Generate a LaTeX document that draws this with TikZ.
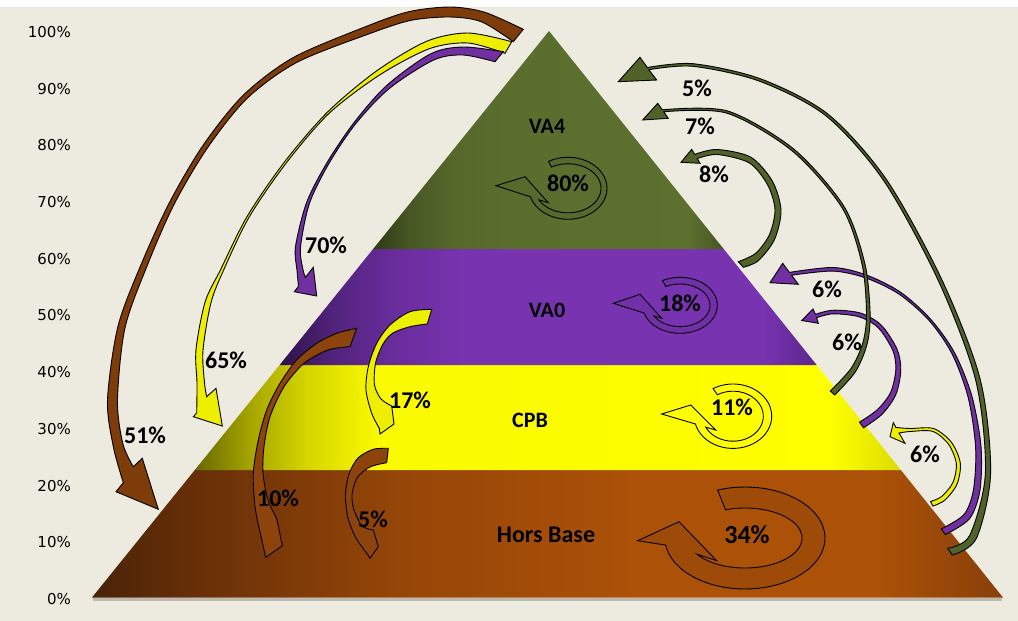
\documentclass[tikz,border=0pt]{standalone}
\usepackage{fontspec}
\setmainfont{Carlito}
\newfontfamily\axisfont{DejaVu Sans}
\definecolor{bgc}{RGB}{237,235,224}
\definecolor{shadowc}{RGB}{190,185,175}
\definecolor{arrBrown}{RGB}{125,60,10}
\definecolor{arrBrownB}{RGB}{140,68,12}
\definecolor{arrYellow}{RGB}{238,238,0}
\definecolor{arrPurple}{RGB}{112,48,160}
\definecolor{arrGreen}{RGB}{80,98,40}
\definecolor{ringGreen}{RGB}{86,106,44}
\definecolor{ringPurple}{RGB}{114,48,168}
\definecolor{ringYellow}{RGB}{255,255,0}
\definecolor{ringBrown}{RGB}{158,74,9}
\pgfdeclarehorizontalshading{brownsh}{100bp}{rgb(0bp)=(0.29,0.137,0.031); rgb(25bp)=(0.29,0.137,0.031); rgb(32bp)=(0.431,0.196,0.031); rgb(42bp)=(0.588,0.275,0.031); rgb(55bp)=(0.675,0.318,0.031); rgb(68bp)=(0.675,0.318,0.031); rgb(75bp)=(0.53,0.25,0.039); rgb(100bp)=(0.53,0.25,0.039)}
\pgfdeclarehorizontalshading{yellowsh}{100bp}{rgb(0bp)=(0.41,0.41,0); rgb(25bp)=(0.41,0.41,0); rgb(29bp)=(0.65,0.65,0); rgb(33bp)=(0.84,0.84,0); rgb(38bp)=(0.98,0.98,0); rgb(70bp)=(1,1,0); rgb(75bp)=(0.86,0.86,0); rgb(100bp)=(0.86,0.86,0)}
\pgfdeclarehorizontalshading{purplesh}{100bp}{rgb(0bp)=(0.176,0.07,0.282); rgb(25bp)=(0.176,0.07,0.282); rgb(30bp)=(0.322,0.137,0.486); rgb(36bp)=(0.416,0.176,0.616); rgb(42bp)=(0.471,0.2,0.69); rgb(70bp)=(0.471,0.2,0.69); rgb(75bp)=(0.36,0.15,0.55); rgb(100bp)=(0.36,0.15,0.55)}
\pgfdeclarehorizontalshading{greensh}{100bp}{rgb(0bp)=(0.176,0.227,0.086); rgb(25bp)=(0.176,0.227,0.086); rgb(30bp)=(0.275,0.337,0.137); rgb(37bp)=(0.337,0.412,0.169); rgb(45bp)=(0.353,0.431,0.18); rgb(70bp)=(0.36,0.44,0.184); rgb(75bp)=(0.275,0.337,0.137); rgb(100bp)=(0.275,0.337,0.137)}
\tikzset{
  arr/.style={draw=black, line width=0.9pt, line join=miter},
  ring/.style={draw=black, line width=0.9pt, line join=miter},
  lab/.style={font=\fontsize{22}{22}\selectfont\bfseries, inner sep=0pt},
  labbig/.style={font=\fontsize{24}{24}\selectfont\bfseries, inner sep=0pt},
  pct/.style={font=\fontsize{24}{24}\selectfont\bfseries, inner sep=0pt},
  pctbig/.style={font=\fontsize{26}{26}\selectfont\bfseries, inner sep=0pt},
  axl/.style={font=\axisfont\fontsize{15}{15}\selectfont, inner sep=0pt, anchor=east}
}
\begin{document}
\begin{tikzpicture}[x=1pt,y=-1pt]
\useasboundingbox (0,0) rectangle (1018,621);
\fill[bgc] (0,0) rectangle (1018,621);
\fill[white] (0,0) rectangle (1018,6.5);

% pyramid corners
\coordinate (apex) at (549,31);
\coordinate (bl) at (92,597.5);
\coordinate (br) at (1003,597.5);
\coordinate (l1) at (194.8,470);   \coordinate (r1) at (900.8,470);
\coordinate (l2) at (279.6,365);   \coordinate (r2) at (816.7,365);
\coordinate (l3) at (373.1,249);   \coordinate (r3) at (723.7,249);

\draw[shadowc, line width=2.5pt] (93,599.5) -- (1002,599.5);
\shade[shading=brownsh] (bl) -- (br) -- (r1) -- (l1) -- cycle;
\shade[shading=yellowsh] (l1) -- (r1) -- (r2) -- (l2) -- cycle;
\shade[shading=purplesh] (l2) -- (r2) -- (r3) -- (l3) -- cycle;
\shade[shading=greensh] (l3) -- (r3) -- (apex) -- cycle;

% circular arrows
\coordinate (r80t) at (496,185.7); \coordinate (r80a) at (525,176.7); \coordinate (r80b) at (548.3,202.7);
\draw[ring, fill=ringGreen] plot[domain=-120:164, samples=60] ({568+39*cos(\x)},{188.3+31*sin(\x)}) -- (r80t) -- (r80a) -- (r80b) -- plot[domain=152:-120, samples=60] ({568+33*cos(\x)},{188.3+24.5*sin(\x)}) -- cycle;
\coordinate (r18t) at (613.3,303.3); \coordinate (r18a) at (640,294.3); \coordinate (r18b) at (661.7,318.3);
\draw[ring, fill=ringPurple] plot[domain=-118:164, samples=60] ({680+37.3*cos(\x)},{305.3+28*sin(\x)}) -- (r18t) -- (r18a) -- (r18b) -- plot[domain=150:-118, samples=60] ({680+30*cos(\x)},{305.3+21.3*sin(\x)}) -- cycle;
\coordinate (r11t) at (661.7,414); \coordinate (r11a) at (690.7,405); \coordinate (r11b) at (715.7,430);
\draw[ring, fill=ringYellow] plot[domain=-121:166, samples=60] ({733+38.7*cos(\x)},{416.2+32.2*sin(\x)}) -- (r11t) -- (r11a) -- (r11b) -- plot[domain=154:-121, samples=60] ({733+30.3*cos(\x)},{416.2+25*sin(\x)}) -- cycle;
\coordinate (r34t) at (637.7,540.7); \coordinate (r34a) at (679,521.7); \coordinate (r34b) at (716.7,560.7);
\draw[ring, fill=ringBrown] plot[domain=-110:172, samples=70] ({745+80*cos(\x)},{538+51*sin(\x)}) -- (r34t) -- (r34a) -- (r34b) -- plot[domain=147:-110, samples=70] ({745+57*cos(\x)},{538+30*sin(\x)}) -- cycle;

% ---- left big arrows
% brown 51%
\coordinate (b1w1) at (116,491.7); \coordinate (b1tip) at (158.3,509.3); \coordinate (b1w2) at (142.3,458.3);
\draw[arr, fill=arrBrown] plot[smooth] coordinates {(523.3,29.3) (484.5,12.2) (450,7) (408.8,11.7) (366.3,26.4) (293.2,57.6) (243.1,95.4) (202.9,145.6) (169.8,201.9) (142.2,261.9) (118,326.2) (107.5,400) (113.3,446.5) (123.3,482.7)}
  -- (b1w1) -- (b1tip) -- (b1w2)
  -- plot[smooth] coordinates {(133.3,466.7) (122.8,443.5) (117.5,400) (125,327.8) (147.8,264.1) (174.2,204.1) (207.1,148.4) (246.9,98.6) (296.8,62.4) (369.7,33.6) (411.2,20.3) (450,17) (481.5,21.8) (513.3,41.7)} -- cycle;
% yellow 65%
\coordinate (y1w1) at (193.3,416.7); \coordinate (y1tip) at (222.3,426); \coordinate (y1w2) at (216,388.3);
\draw[arr, fill=arrYellow] plot[smooth] coordinates {(511.7,41.7) (468,33) (426.6,41.3) (376.6,70.9) (327.3,112.3) (284.2,162.4) (247.1,216.5) (220.7,269.4) (205.1,302) (196,349.7) (197,383.1) (196.7,413)}
  -- (y1w1) -- (y1tip) -- (y1w2)
  -- plot[smooth] coordinates {(206.7,396.7) (204.5,382.9) (203,350.3) (210.9,303) (223.4,270.6) (248.9,217.5) (285.8,163.6) (328.7,113.7) (379.4,75.1) (429.4,48.7) (468,43) (505,53.3)} -- cycle;
% purple 70%
\coordinate (p1w1) at (294.3,291.7); \coordinate (p1tip) at (316.7,296); \coordinate (p1w2) at (313.3,267.3);
\draw[arr, fill=arrPurple] plot[smooth] coordinates {(503.3,51.7) (463,47) (430.5,53.9) (386.7,85.5) (354.2,122.4) (327.1,162.5) (306.6,202.5) (295.5,246.7) (297,270.3) (298.5,286.3)}
  -- (p1w1) -- (p1tip) -- (p1w2)
  -- plot[smooth] coordinates {(305.5,277.3) (303,269.7) (300.5,247.3) (309.4,203.5) (328.9,163.5) (355.8,123.6) (389.3,88.5) (433.5,60.1) (463,55) (495,61.7)} -- cycle;

% ---- inner arrows
% brown 10%
\coordinate (b2tip) at (265.7,557.3); \coordinate (b2barb) at (282.3,545.7);
\draw[arr, fill=arrBrownB] plot[smooth] coordinates {(356.7,328.3) (336.7,333.3) (316.7,343.3) (296.7,360) (280,383.3) (266.7,410) (258.3,440) (253.3,473.3) (255,506.7) (260,532)}
  -- (b2tip) -- (b2barb)
  -- plot[smooth] coordinates {(276.7,518.3) (268,500) (263,473.3) (264,446.7) (270,416.7) (284,386.7) (304,363.3) (328,350) (350,346.7)} -- cycle;
% yellow 17%
\coordinate (y2tip) at (380,434); \coordinate (y2barb) at (394,424);
\draw[arr, fill=arrYellow] plot[smooth] coordinates {(431.7,309.3) (410,311.7) (390,325) (376.7,343.3) (368.3,366.7) (366,390) (371.7,413.3) (379.3,428.3)}
  -- (y2tip) -- (y2barb)
  -- plot[smooth] coordinates {(391.7,406) (381,399) (374.5,385) (375.5,363.3) (383,344) (393,333) (410,326.7) (427.3,324)} -- cycle;
% brown 5%
\coordinate (b3tip) at (370,558.3); \coordinate (b3barb) at (378.3,546.7);
\draw[arr, fill=arrBrownB] plot[smooth] coordinates {(388.3,448.3) (373.3,449.3) (358,458) (349,474) (345.5,495) (348,518) (356,538) (368,555)}
  -- (b3tip) -- (b3barb)
  -- plot[smooth] coordinates {(373.3,530) (362,526) (354,510) (352,495) (357,478) (370,467) (386.7,462.7)} -- cycle;

% ---- right arrows
% purple 6% upper
\coordinate (p2w1) at (782.7,263.3); \coordinate (p2tip) at (770,282.7); \coordinate (p2w2) at (798.3,284.3);
\draw[arr, fill=arrPurple] plot[smooth] coordinates {(945.2,534.6) (969.4,518.9) (979.9,490.5) (981,446.5) (971.9,396.2) (954.5,352.7) (930.7,319.3) (900.7,292.3) (867.2,275.3) (833.4,267.5) (789.4,272.4)}
  -- (p2w1) -- (p2tip) -- (p2w2)
  -- plot[smooth] coordinates {(791.6,275.2) (833.2,271.1) (866.2,278.1) (899.3,294.3) (929.3,320.7) (952.1,353.9) (968.1,397.2) (975.6,446.9) (973.5,489.5) (964,514.5) (941.4,528.8)} -- cycle;
% purple 6% lower
\coordinate (p3w1) at (813,309); \coordinate (p3tip) at (801.7,320.5); \coordinate (p3w2) at (818.3,323.3);
\draw[arr, fill=arrPurple] plot[smooth] coordinates {(863.5,427.8) (882.3,414) (895.9,394.4) (900.8,370.1) (897,349.1) (881.4,325.3) (860.6,313.1) (833.3,310.2) (815.4,314.3)}
  -- (p3w1) -- (p3tip) -- (p3w2)
  -- plot[smooth] coordinates {(816.6,317.7) (833.3,313.8) (859.4,316.9) (878.6,328.1) (893,350.9) (895.8,369.9) (890.7,392.2) (877.7,409.4) (859.5,422.2)} -- cycle;
% yellow 6%
\coordinate (y3w1) at (893.3,422.7); \coordinate (y3tip) at (890,436.7); \coordinate (y3w2) at (905,443.3);
\draw[arr, fill=arrYellow] plot[smooth] coordinates {(932.8,506.1) (944.9,500.1) (957,484.2) (960.3,463.1) (951.4,442.3) (933.8,428.6) (909.9,428.5) (896,427.5)}
  -- (y3w1) -- (y3tip) -- (y3w2)
  -- plot[smooth] coordinates {(899,433) (910.1,431.5) (932.8,431.4) (948.6,444.3) (956.3,463.5) (953,482.4) (941.7,496.5) (930.6,501.5)} -- cycle;
% green 8%
\coordinate (g3w1) at (691.7,149.3); \coordinate (g3tip) at (681,162.3); \coordinate (g3w2) at (700,163.3);
\draw[arr, fill=arrGreen] plot[smooth] coordinates {(743.3,267.3) (758.2,260.8) (774.5,239.5) (781,210.4) (772.4,181.2) (750.7,157.1) (716.8,149.5) (694.7,154.4)}
  -- (g3w1) -- (g3tip) -- (g3w2)
  -- plot[smooth] coordinates {(697.3,158.6) (717.2,154.5) (749.3,162.9) (767.6,184.8) (775,209.6) (769.5,234.5) (755.8,253.2) (738.3,261.7)} -- cycle;
% green 7%
\coordinate (g2w1) at (657.7,103.3); \coordinate (g2tip) at (642.7,120); \coordinate (g2w2) at (668.3,118.3);
\draw[arr, fill=arrGreen] plot[smooth] coordinates {(834.7,395) (855.6,371.5) (867.1,343.9) (870.1,313.3) (864.7,263) (844,206.4) (793.8,149.1) (727.3,110.9) (662.3,109.8)}
  -- (g2w1) -- (g2tip) -- (g2w2)
  -- plot[smooth] coordinates {(663.7,111.8) (726.7,113.1) (792.2,150.9) (842,207.6) (861.9,263.6) (866.5,313.3) (862.9,342.7) (851,368.5) (830.3,391)} -- cycle;
% green 5%
\coordinate (g1w1) at (640,57.3); \coordinate (g1tip) at (618.3,81.7); \coordinate (g1w2) at (656.7,80);
\draw[arr, fill=arrGreen] plot[smooth] coordinates {(952.2,555.1) (976.3,538.6) (990.6,473.1) (980.2,379.4) (941.6,279.2) (886.2,179.2) (827.8,114) (760.5,78.8) (693.1,63.7) (647.3,67.5)}
  -- (g1w1) -- (g1tip) -- (g1w2)
  -- plot[smooth] coordinates {(648.8,69.7) (692.9,66.3) (759.5,81.2) (826.2,116) (883.8,180.8) (938.4,280.8) (975.8,380.6) (985.4,472.9) (969.7,535.4) (947.8,548.3)} -- cycle;

% ---- labels
\node[lab] (lVA4) at (547,126) {VA4};
\node[lab] (lVA0) at (547,310) {VA0};
\node[lab] (lCPB) at (530,420) {CPB};
\node[labbig] (lHB) at (546,535) {Hors Base};
\node[pct] (p80) at (568,183) {80\%};
\node[pct] (p18) at (680,303) {18\%};
\node[pct] (p11) at (732,407) {11\%};
\node[pctbig] (p34) at (747,535) {34\%};
\node[pct] (p5g) at (697,88) {5\%};
\node[pct] (p7g) at (700,126) {7\%};
\node[pct] (p8g) at (714,174) {8\%};
\node[pct] (p6a) at (827,289) {6\%};
\node[pct] (p6b) at (847,342) {6\%};
\node[pct] (p6c) at (925,454) {6\%};
\node[pct] (p70) at (326,245) {70\%};
\node[pct] (p65) at (226,360) {65\%};
\node[pct] (p51) at (145,435) {51\%};
\node[pct] (p10) at (278,498) {10\%};
\node[pct] (p17) at (410,400) {17\%};
\node[pct] (p5b) at (373,519) {5\%};

\foreach \v [count=\k from 0] in {0,10,...,100}
  \node[axl] (ax\k) at (71,{599-56.7*\k}) {\v\%};
\end{tikzpicture}
\end{document}
